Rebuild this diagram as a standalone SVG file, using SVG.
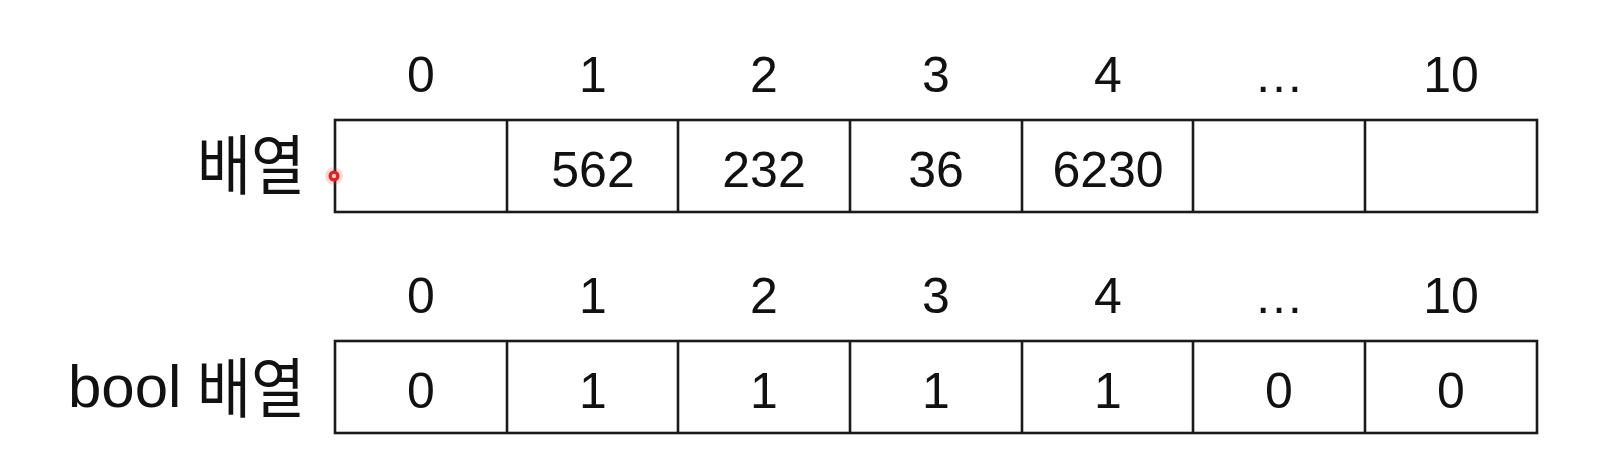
<svg xmlns="http://www.w3.org/2000/svg" width="1606" height="476" viewBox="0 0 1606 476">
<style>
.bg{fill:#ffffff}
.cell{fill:none;stroke:#1a1a1a;stroke-width:2.6}
.num{font-family:"Liberation Sans","Noto Sans",sans-serif;font-size:50px;fill:#111;text-anchor:middle}
.lat{font-family:"Liberation Sans","Noto Sans",sans-serif;font-size:60px;fill:#111}
.kor{font-family:"Noto Sans CJK KR","Noto Sans CJK SC",sans-serif;font-size:65px;fill:#111}
</style>
<rect class="bg" x="0" y="0" width="1606" height="476"/>
<g id="header1">
<text class="num" x="421" y="92">0</text>
<text class="num" x="593" y="92">1</text>
<text class="num" x="764" y="92">2</text>
<text class="num" x="936" y="92">3</text>
<text class="num" x="1108" y="92">4</text>
<text class="num" x="1279" y="92">…</text>
<text class="num" x="1451" y="92">10</text>
</g>
<g id="label1"><text class="kor" x="197" y="189" textLength="108" lengthAdjust="spacingAndGlyphs">배열</text></g>
<g id="array1">
<rect class="cell" x="335" y="120" width="1202" height="92"/>
<line class="cell" x1="507" y1="120" x2="507" y2="212"/>
<line class="cell" x1="678" y1="120" x2="678" y2="212"/>
<line class="cell" x1="850" y1="120" x2="850" y2="212"/>
<line class="cell" x1="1022" y1="120" x2="1022" y2="212"/>
<line class="cell" x1="1193" y1="120" x2="1193" y2="212"/>
<line class="cell" x1="1365" y1="120" x2="1365" y2="212"/>
<text class="num" x="593" y="187">562</text>
<text class="num" x="764" y="187">232</text>
<text class="num" x="936" y="187">36</text>
<text class="num" x="1108" y="187">6230</text>
</g>
<g id="pointer">
<circle cx="334" cy="176" r="9" fill="#ff3030" opacity="0.18"/>
<circle cx="334" cy="176" r="5.5" fill="#dd2222"/>
<circle cx="334" cy="176" r="2.2" fill="#f8c8c8"/>
</g>
<g id="header2">
<text class="num" x="421" y="313">0</text>
<text class="num" x="593" y="313">1</text>
<text class="num" x="764" y="313">2</text>
<text class="num" x="936" y="313">3</text>
<text class="num" x="1108" y="313">4</text>
<text class="num" x="1279" y="313">…</text>
<text class="num" x="1451" y="313">10</text>
</g>
<g id="label2">
<text class="lat" x="68" y="407">bool</text>
<text class="kor" x="197" y="412" textLength="108" lengthAdjust="spacingAndGlyphs">배열</text>
</g>
<g id="array2">
<rect class="cell" x="335" y="341" width="1202" height="92"/>
<line class="cell" x1="507" y1="341" x2="507" y2="433"/>
<line class="cell" x1="678" y1="341" x2="678" y2="433"/>
<line class="cell" x1="850" y1="341" x2="850" y2="433"/>
<line class="cell" x1="1022" y1="341" x2="1022" y2="433"/>
<line class="cell" x1="1193" y1="341" x2="1193" y2="433"/>
<line class="cell" x1="1365" y1="341" x2="1365" y2="433"/>
<text class="num" x="421" y="408">0</text>
<text class="num" x="593" y="408">1</text>
<text class="num" x="764" y="408">1</text>
<text class="num" x="936" y="408">1</text>
<text class="num" x="1108" y="408">1</text>
<text class="num" x="1279" y="408">0</text>
<text class="num" x="1451" y="408">0</text>
</g>
<g id="connectors"></g>
</svg>
